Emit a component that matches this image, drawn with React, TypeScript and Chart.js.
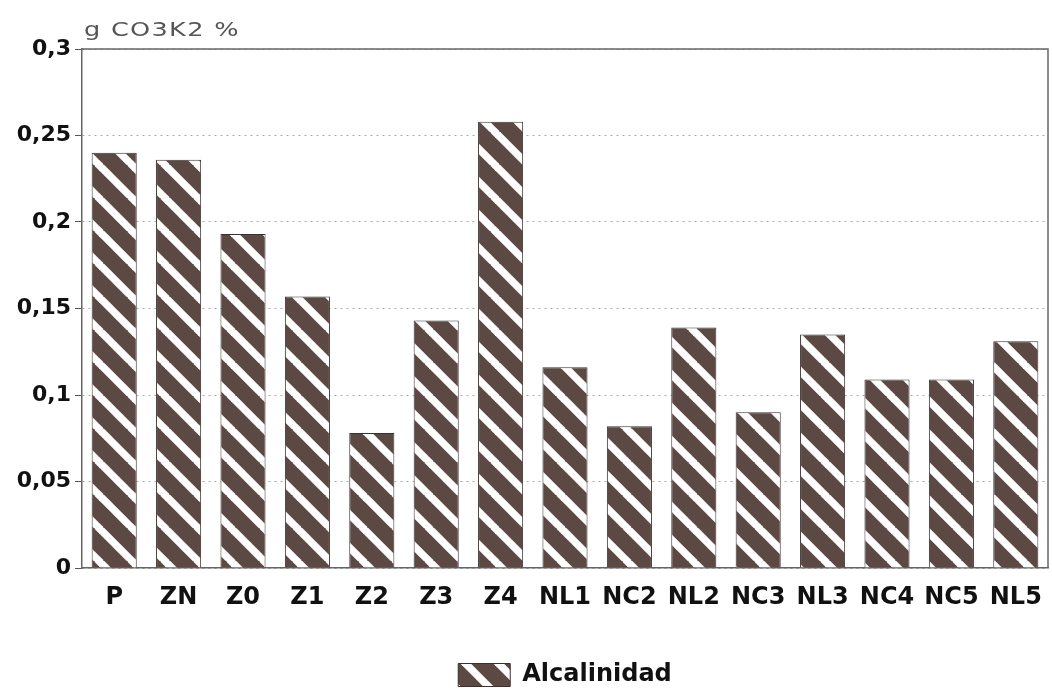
import React, { useEffect, useRef } from 'react';
import { Chart, registerables } from 'chart.js';

Chart.register(...registerables);

const categories = ['P', 'ZN', 'Z0', 'Z1', 'Z2', 'Z3', 'Z4', 'NL1', 'NC2', 'NL2', 'NC3', 'NL3', 'NC4', 'NC5', 'NL5'];
const alcalinidad = [0.24, 0.236, 0.193, 0.157, 0.078, 0.143, 0.258, 0.116, 0.082, 0.139, 0.09, 0.135, 0.109, 0.109, 0.131];
const yTickValues = [0, 0.05, 0.1, 0.15, 0.2, 0.25, 0.3];
const seriesLabel = 'Alcalinidad';
const axisTitle = 'g CO3K2 %';

function makeHatch(): CanvasPattern | string {
  const s = 33;
  const c = document.createElement('canvas');
  c.width = s;
  c.height = s;
  const g = c.getContext('2d');
  if (!g) return '#5c4944';
  g.fillStyle = '#5c4944';
  g.fillRect(0, 0, s, s);
  g.strokeStyle = '#ffffff';
  g.lineWidth = 7.5;
  for (const off of [-s, 0, s]) {
    g.beginPath();
    g.moveTo(off - 2, -2);
    g.lineTo(off + s + 2, s + 2);
    g.stroke();
  }
  const p = g.createPattern(c, 'repeat');
  return p || '#5c4944';
}

const fmt = (v: number) => {
  const r = Number(v.toFixed(2));
  return r.toString().replace('.', ',');
};

export default function App() {
  const ref = useRef<HTMLCanvasElement>(null);

  useEffect(() => {
    document.body.style.margin = '0';
    document.body.style.overflow = 'hidden';
    const canvas = ref.current;
    if (!canvas) return;
    const hatch = makeHatch();

    const framePlugin = {
      id: 'frameAndTitle',
      afterDraw(chart: any) {
        const { ctx, chartArea } = chart;
        ctx.save();
        ctx.strokeStyle = '#666';
        ctx.lineWidth = 1.5;
        ctx.beginPath();
        ctx.moveTo(chartArea.left, chartArea.top);
        ctx.lineTo(chartArea.right, chartArea.top);
        ctx.lineTo(chartArea.right, chartArea.bottom);
        ctx.stroke();
        ctx.fillStyle = '#555';
        ctx.font = '20px "DejaVu Sans"';
        try { (ctx as any).letterSpacing = '1px'; } catch (e) {}
        ctx.textBaseline = 'alphabetic';
        ctx.textAlign = 'left';
        ctx.translate(chartArea.left + 2, chartArea.top - 13);
        ctx.scale(1.28, 1);
        ctx.fillText(axisTitle, 0, 0);
        ctx.restore();
      },
    };

    const chart = new Chart(canvas, {
      type: 'bar',
      data: {
        labels: categories,
        datasets: [
          {
            label: seriesLabel,
            data: alcalinidad,
            backgroundColor: hatch as any,
            borderColor: '#3a302e',
            borderWidth: 1,
            barPercentage: 0.7,
            categoryPercentage: 1.0,
          },
        ],
      },
      options: {
        responsive: false,
        animation: false,
        layout: { padding: { top: 49, right: 4, bottom: -4, left: 0 } },
        plugins: {
          title: { display: false },
          tooltip: { enabled: false },
          legend: {
            position: 'bottom',
            fullSize: false,
            labels: {
              boxWidth: 52,
              boxHeight: 23,
              padding: 2,
              color: '#111',
              font: { family: '"DejaVu Sans"', size: 24, weight: 'bold' },
            },
          },
        },
        scales: {
          x: {
            grid: { display: false },
            border: { display: true, color: '#666', width: 1.5 },
            ticks: {
              color: '#111',
              padding: 7,
              maxRotation: 0,
              autoSkip: false,
              font: { family: '"DejaVu Sans"', size: 24, weight: 'bold' },
            },
            afterFit(scale: any) {
              scale.height = 93;
            },
          },
          y: {
            min: 0,
            max: 0.3,
            grid: {
              color: '#aaa',
              lineWidth: 1,
              tickLength: 7,
              tickColor: '#555',
              tickWidth: 1,
            },
            border: { display: true, color: '#666', width: 1.5, dash: [2, 4] },
            afterBuildTicks(scale: any) {
              scale.ticks = yTickValues.map((v) => ({ value: v }));
            },
            ticks: {
              color: '#111',
              padding: 4,
              font: { family: '"DejaVu Sans"', size: 22, weight: 'bold' },
              callback: (v: any) => fmt(Number(v)),
            },
            afterFit(scale: any) {
              scale.width = 82;
            },
          },
        },
      },
      plugins: [framePlugin],
    });

    return () => chart.destroy();
  }, []);

  return (
    <div style={{ width: 1052, height: 693 }}>
      <canvas ref={ref} width={1052} height={693} style={{ display: 'block' }} />
    </div>
  );
}
